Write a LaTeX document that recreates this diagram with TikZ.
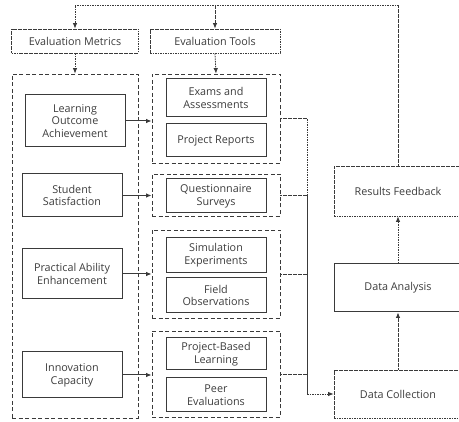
\documentclass[tikz,border=0pt]{standalone}
\usepackage{fontspec}
\setmainfont{Open Sans}
\usetikzlibrary{arrows.meta,calc}
\definecolor{linegray}{HTML}{3A3A3A}
\definecolor{textgray}{HTML}{3C3C3C}

\begin{document}
\begin{tikzpicture}[>={Latex[length=5.5pt,width=4.5pt]},x=1pt,y=-1pt,
  every node/.style={font=\fontsize{10.8}{12.8}\selectfont,text=textgray,align=center,inner sep=0pt},
  size/.style 2 args={minimum width=#1pt,minimum height=#2pt},
  solidbox/.style={draw=linegray,line width=1pt},
  dotbox/.style={draw=linegray,line width=0.8pt,dash pattern=on 1.6pt off 0.9pt},
  groupbox/.style={draw=linegray,line width=0.8pt,dash pattern=on 4pt off 2.5pt},
  dotline/.style={linegray,line width=0.8pt,dash pattern=on 1.6pt off 0.9pt},
  solidline/.style={linegray,line width=1pt}]
  \useasboundingbox (0,0) rectangle (459,422);
  % column headers
  \node[dotbox,size={127}{24}] (metrics) at (75,41) {Evaluation Metrics};
  \node[dotbox,size={130}{24}] (tools) at (215,41) {Evaluation Tools};
  % metrics column
  \node[groupbox,size={126}{344}] (mgroup) at (75,246) {};
  \node[solidbox,size={100}{52}] (learn) at (75,121) {Learning\\Outcome\\Achievement};
  \node[solidbox,size={100}{43}] (satis) at (72,195.5) {Student\\Satisfaction};
  \node[solidbox,size={100}{50}] (pract) at (72,274) {Practical Ability\\Enhancement};
  \node[solidbox,size={100}{46}] (innov) at (72,375) {Innovation\\Capacity};
  % tools column, one dashed group per metric
  \node[groupbox,size={128}{89}] (g1) at (216,118.5) {};
  \node[groupbox,size={128}{42}] (g2) at (216,195) {};
  \node[groupbox,size={128}{88}] (g3) at (216,274) {};
  \node[groupbox,size={128}{86}] (g4) at (216,374) {};
  \node[solidbox,size={100}{38}] (exams) at (216,98) {Exams and\\Assessments};
  \node[solidbox,size={100}{33}] (reports) at (216,140.5) {Project Reports};
  \node[solidbox,size={100}{34}] (survey) at (216,196) {Questionnaire\\Surveys};
  \node[solidbox,size={100}{35}] (simul) at (216,255.5) {Simulation\\Experiments};
  \node[solidbox,size={100}{35}] (field) at (216,295.5) {Field\\Observations};
  \node[solidbox,size={100}{32}] (pbl) at (216,354) {Project-Based\\Learning};
  \node[solidbox,size={100}{34}] (peer) at (216,395) {Peer\\Evaluations};
  % data cycle on the right
  \node[dotbox,size={128}{50}] (results) at (398,191) {Results Feedback};
  \node[solidbox,size={128}{48}] (analysis) at (398,288) {Data Analysis};
  \node[dotbox,size={128}{48}] (collect) at (398,394) {Data Collection};
  \coordinate (top) at (0,5);
  \coordinate (bus) at (307,0);
  % connectors
  \draw[dotline,->] (metrics.south) -- (mgroup.north);
  \draw[dotline,->] (tools.south) -- (g1.north);
  \draw[solidline,->] (learn.east) -- (learn.east -| g1.west);
  \draw[solidline,->] (satis.east) -- (satis.east -| g2.west);
  \draw[solidline,->] (pract.east) -- (pract.east -| g3.west);
  \draw[solidline,->] (innov.east) -- (innov.east -| g4.west);
  \foreach \g in {g1,g2,g3,g4}{
    \draw[dotline] (\g.east) -| (bus |- collect.west);
  }
  \draw[dotline,->] (bus |- collect.west) -- (collect.west);
  \draw[dotline,->] (collect.north) -- (analysis.south);
  \draw[dotline,->] (analysis.north) -- (results.south);
  % feedback loop back to the headers
  \draw[dotline,->] (results.north) -- (results.north |- top) -| (metrics.north);
  \draw[dotline,->] (tools.north |- top) -- (tools.north);
\end{tikzpicture}
\end{document}
